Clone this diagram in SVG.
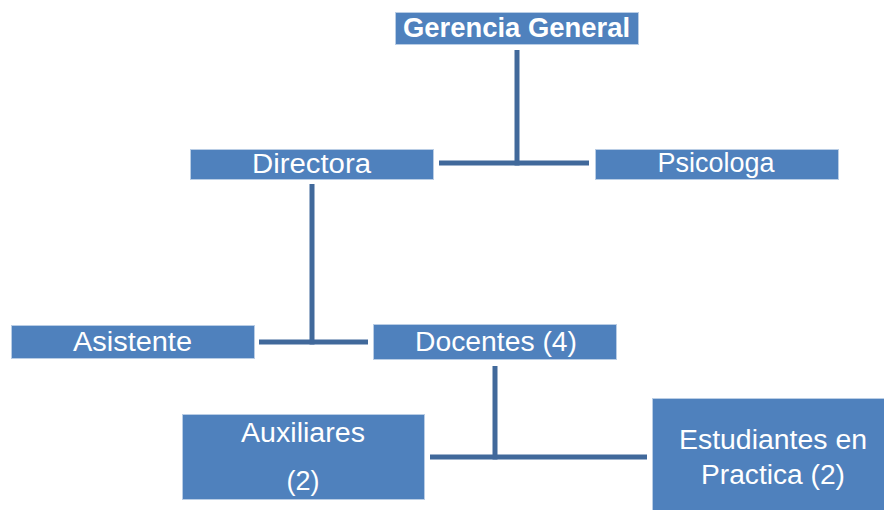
<svg xmlns="http://www.w3.org/2000/svg" width="884" height="510" viewBox="0 0 884 510">
<style>
.box{fill:#4F81BD;stroke:#B9CDE5;stroke-width:1}
.t{fill:#FFFFFF;font-family:"Liberation Sans",Arial,sans-serif;font-size:27px;text-anchor:middle}
.b{font-weight:bold}
.c{stroke:#41699B;stroke-width:5;fill:none}
</style>
<rect width="884" height="510" fill="#FFFFFF"/>
<g id="connectors">
<line class="c" x1="517" y1="50" x2="517" y2="165.5"/>
<line class="c" x1="439" y1="163" x2="589" y2="163"/>
<line class="c" x1="312" y1="184" x2="312" y2="344.5"/>
<line class="c" x1="259" y1="342" x2="368" y2="342"/>
<line class="c" x1="495" y1="366" x2="495" y2="459.5"/>
<line class="c" x1="430" y1="457" x2="647" y2="457"/>
</g>
<g id="gerencia">
<rect class="box" x="395.5" y="12.5" width="243" height="32"/>
<text class="t b" x="516.5" y="37" textLength="227" lengthAdjust="spacingAndGlyphs">Gerencia General</text>
</g>
<g id="directora">
<rect class="box" x="190.5" y="149.5" width="243" height="30"/>
<text class="t" x="311.5" y="173" textLength="119" lengthAdjust="spacingAndGlyphs">Directora</text>
</g>
<g id="psicologa">
<rect class="box" x="595.5" y="149.5" width="243" height="30"/>
<text class="t" x="716" y="172" textLength="117" lengthAdjust="spacingAndGlyphs">Psicologa</text>
</g>
<g id="asistente">
<rect class="box" x="11.5" y="325.5" width="243" height="33"/>
<text class="t" x="132.5" y="351" textLength="119" lengthAdjust="spacingAndGlyphs">Asistente</text>
</g>
<g id="docentes">
<rect class="box" x="373.5" y="324.5" width="243" height="35"/>
<text class="t" x="496" y="351" textLength="162" lengthAdjust="spacingAndGlyphs">Docentes (4)</text>
</g>
<g id="auxiliares">
<rect class="box" x="182.5" y="414.5" width="242" height="85"/>
<text class="t" x="303" y="442" textLength="124" lengthAdjust="spacingAndGlyphs">Auxiliares</text>
<text class="t" x="303" y="490">(2)</text>
</g>
<g id="estudiantes">
<rect class="box" x="652.5" y="398.5" width="240" height="120"/>
<text class="t" x="773" y="449" textLength="188" lengthAdjust="spacingAndGlyphs">Estudiantes en</text>
<text class="t" x="773" y="484" textLength="144" lengthAdjust="spacingAndGlyphs">Practica (2)</text>
</g>
</svg>
